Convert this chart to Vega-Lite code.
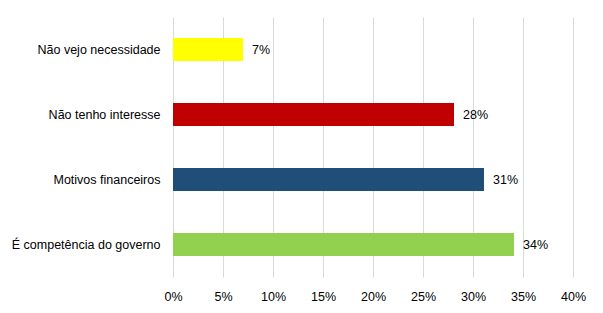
{
  "$schema": "https://vega.github.io/schema/vega-lite/v6.json",
  "autosize": "none",
  "width": 400,
  "height": 260,
  "padding": {"left": 173, "top": 17, "right": 30, "bottom": 36},
  "background": "white",
  "config": {
    "view": {"stroke": null},
    "font": "Liberation Sans"
  },
  "data": {
    "values": [
      {"cat": "Não vejo necessidade", "v": 0.07, "color": "#FFFF00"},
      {"cat": "Não tenho interesse", "v": 0.281, "color": "#C00000"},
      {"cat": "Motivos financeiros", "v": 0.311, "color": "#1F4E79"},
      {"cat": "É competência do governo", "v": 0.341, "color": "#92D050"}
    ]
  },
  "encoding": {
    "y": {
      "field": "cat", "type": "nominal", "sort": null,
      "scale": {"paddingInner": 0.646, "paddingOuter": 0.323},
      "axis": {"title": null, "ticks": false, "domain": false, "labelPadding": 13, "labelFontSize": 12.5, "labelColor": "#000000", "labelLimit": 200}
    },
    "x": {
      "field": "v", "type": "quantitative",
      "scale": {"domain": [0, 0.4], "nice": false},
      "axis": {"title": null, "format": ".0%", "values": [0, 0.05, 0.1, 0.15, 0.2, 0.25, 0.3, 0.35, 0.4], "ticks": false, "domain": false, "grid": true, "gridColor": "#d9d9d9", "gridWidth": 1, "labelPadding": 13, "labelFontSize": 12.5, "labelColor": "#000000", "labelFlush": false, "labelOverlap": false}
    }
  },
  "layer": [
    {
      "mark": {"type": "bar"},
      "encoding": {"color": {"field": "color", "type": "nominal", "scale": null}}
    },
    {
      "mark": {"type": "text", "align": "left", "dx": 9, "fontSize": 12.5, "color": "#000000"},
      "encoding": {"text": {"field": "v", "type": "quantitative", "format": ".0%"}}
    }
  ]
}
